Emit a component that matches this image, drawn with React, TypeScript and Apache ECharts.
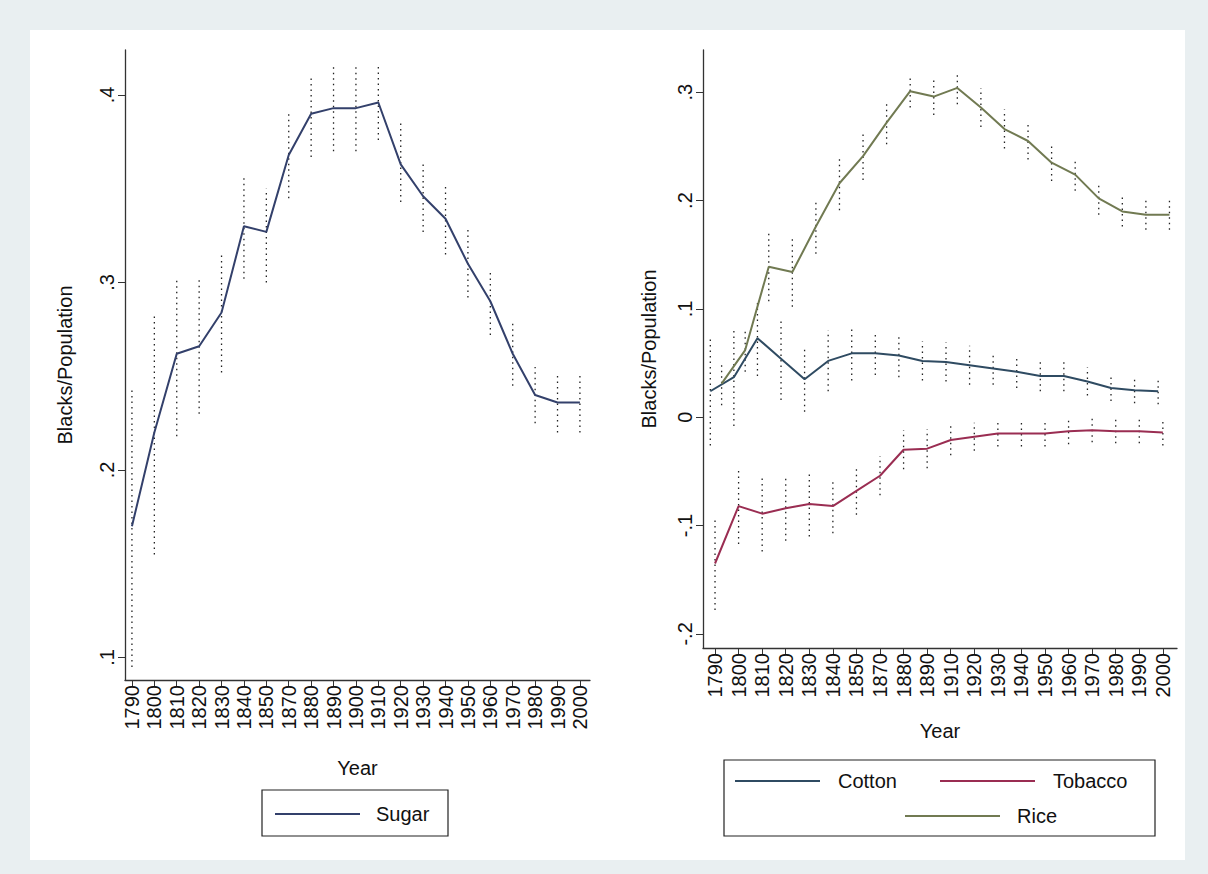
import React, { useEffect, useRef } from "react";
import * as echarts from "echarts";

const yearsL = ["1790","1800","1810","1820","1830","1840","1850","1870","1880","1890","1900","1910","1920","1930","1940","1950","1960","1970","1980","1990","2000"];
const yearsR = ["1790","1800","1810","1820","1830","1840","1850","1870","1880","1890","1910","1920","1930","1940","1950","1960","1970","1980","1990","2000"];
const sugar = [0.17,0.22,0.262,0.266,0.284,0.33,0.327,0.368,0.39,0.393,0.393,0.396,0.363,0.346,0.334,0.31,0.29,0.262,0.24,0.236,0.236];
const sugarLo = [0.095,0.155,0.218,0.23,0.252,0.302,0.3,0.345,0.367,0.37,0.37,0.376,0.343,0.327,0.315,0.292,0.272,0.245,0.225,0.22,0.22];
const sugarHi = [0.243,0.282,0.303,0.303,0.316,0.357,0.35,0.39,0.41,0.415,0.415,0.415,0.385,0.365,0.353,0.328,0.306,0.278,0.255,0.252,0.252];
const cotton = [0.024,0.037,0.073,0.054,0.035,0.052,0.059,0.059,0.057,0.052,0.051,0.048,0.045,0.042,0.038,0.038,0.033,0.027,0.025,0.024];
const cottonHalf = [0.05,0.045,0.035,0.038,0.03,0.028,0.025,0.02,0.02,0.018,0.018,0.018,0.015,0.015,0.014,0.014,0.013,0.012,0.012,0.012];
const tobacco = [-0.135,-0.082,-0.089,-0.084,-0.08,-0.082,-0.068,-0.054,-0.03,-0.029,-0.021,-0.018,-0.015,-0.015,-0.015,-0.013,-0.012,-0.013,-0.013,-0.014];
const tobaccoHalf = [0.043,0.035,0.035,0.03,0.03,0.025,0.022,0.018,0.018,0.018,0.014,0.013,0.012,0.012,0.012,0.012,0.011,0.011,0.011,0.012];
const rice = [0.031,0.062,0.139,0.134,0.176,0.216,0.241,0.272,0.301,0.296,0.304,0.286,0.266,0.255,0.235,0.224,0.202,0.19,0.187,0.187];
const riceHalf = [0.02,0.02,0.032,0.032,0.025,0.025,0.022,0.02,0.015,0.017,0.015,0.018,0.018,0.017,0.017,0.015,0.015,0.014,0.014,0.014];

const C_SUGAR = "#33406b", C_COTTON = "#2f4b62", C_TOB = "#9a2d52", C_RICE = "#717a52";
const FONT = "Liberation Sans";

function ciSeries(xi: number, pts: number[][]) {
  return {
    type: "custom", xAxisIndex: xi, yAxisIndex: xi, silent: true, z: 1,
    data: pts,
    encode: { x: 0, y: [1, 2] },
    renderItem: (params: any, api: any) => {
      const a = api.coord([api.value(0), api.value(1)]);
      const b = api.coord([api.value(0), api.value(2)]);
      return { type: "line", shape: { x1: a[0], y1: a[1], x2: b[0], y2: b[1] }, style: { stroke: "#222", lineWidth: 1.3, lineDash: [1.5, 4] } };
    },
  };
}

export default function App() {
  const ref = useRef<HTMLDivElement>(null);
  useEffect(() => {
    const chart = echarts.init(ref.current!, null, { renderer: "svg" });
    const offC = -0.2, offR = 0.28;
    const xAxisBase = (years: string[], min: number, max: number, gi: number, gap: number) => ({
      type: "value", gridIndex: gi, min, max,
      axisLine: { show: true, onZero: false, lineStyle: { color: "#333", width: 1.3 } },
      axisTick: { show: true, length: 7, customValues: years.map((_, i) => i), lineStyle: { color: "#333" } },
      axisLabel: { customValues: years.map((_, i) => i), rotate: 90, formatter: (v: number) => years[Math.round(v)] ?? "", fontFamily: FONT, fontSize: 20, color: "#111", margin: 5 },
      splitLine: { show: false },
      name: "Year", nameLocation: "middle", nameGap: gap, nameTextStyle: { fontFamily: FONT, fontSize: 20, color: "#111" },
    });
    const yAxisBase = (min: number, max: number, ticks: number[], gi: number, gap: number) => ({
      type: "value", gridIndex: gi, min, max,
      axisLine: { show: true, onZero: false, lineStyle: { color: "#333", width: 1.3 } },
      axisTick: { show: true, length: 7, customValues: ticks, lineStyle: { color: "#333" } },
      axisLabel: { customValues: ticks, rotate: 90, formatter: (v: number) => { const s = (Math.round(v * 10) / 10).toString(); return s.replace(/^0\./, ".").replace(/^-0\./, "-."); }, fontFamily: FONT, fontSize: 20, color: "#111", margin: 8 },
      splitLine: { show: false },
      name: "Blacks/Population", nameLocation: "middle", nameGap: gap, nameRotate: 90, nameTextStyle: { fontFamily: FONT, fontSize: 20, color: "#111" },
    });
    const line = (data: number[][], color: string, gi: number) => ({
      type: "line", xAxisIndex: gi, yAxisIndex: gi, data, showSymbol: false, z: 3,
      lineStyle: { color, width: 2 }, itemStyle: { color },
    });
    chart.setOption({
      animation: false,
      backgroundColor: "#e9eff1",
      grid: [
        { left: 125, top: 50, width: 465, height: 630 },
        { left: 703, top: 50, width: 474, height: 598 },
      ],
      xAxis: [xAxisBase(yearsL, -0.31, 20.45, 0, 78), xAxisBase(yearsR, -0.51, 19.6, 1, 73)],
      yAxis: [yAxisBase(0.088, 0.424, [0.1, 0.2, 0.3, 0.4], 0, 50), yAxisBase(-0.213, 0.339, [-0.2, -0.1, 0, 0.1, 0.2, 0.3], 1, 44)],
      graphic: [
        { type: "rect", z: -10, shape: { x: 30, y: 30, width: 1155, height: 830 }, style: { fill: "#fff" } },
        { type: "rect", shape: { x: 262, y: 790, width: 186, height: 46 }, style: { fill: "#fff", stroke: "#222", lineWidth: 1.2 } },
        { type: "line", shape: { x1: 275, y1: 814, x2: 360, y2: 814 }, style: { stroke: C_SUGAR, lineWidth: 2 } },
        { type: "text", x: 376, y: 814, style: { text: "Sugar", fontFamily: FONT, fontSize: 20, fill: "#111", verticalAlign: "middle" } },
        { type: "rect", shape: { x: 724, y: 760, width: 431, height: 76 }, style: { fill: "#fff", stroke: "#222", lineWidth: 1.2 } },
        { type: "line", shape: { x1: 735, y1: 781, x2: 820, y2: 781 }, style: { stroke: C_COTTON, lineWidth: 2 } },
        { type: "text", x: 838, y: 781, style: { text: "Cotton", fontFamily: FONT, fontSize: 20, fill: "#111", verticalAlign: "middle" } },
        { type: "line", shape: { x1: 940, y1: 781, x2: 1035, y2: 781 }, style: { stroke: C_TOB, lineWidth: 2 } },
        { type: "text", x: 1053, y: 781, style: { text: "Tobacco", fontFamily: FONT, fontSize: 20, fill: "#111", verticalAlign: "middle" } },
        { type: "line", shape: { x1: 905, y1: 816, x2: 1000, y2: 816 }, style: { stroke: C_RICE, lineWidth: 2 } },
        { type: "text", x: 1017, y: 816, style: { text: "Rice", fontFamily: FONT, fontSize: 20, fill: "#111", verticalAlign: "middle" } },
      ],
      series: [
        ciSeries(0, sugar.map((_, i) => [i, sugarLo[i], sugarHi[i]])),
        line(sugar.map((v, i) => [i, v]), C_SUGAR, 0),
        ciSeries(1, cotton.map((v, i) => [i + offC, v - cottonHalf[i], v + cottonHalf[i]])),
        ciSeries(1, tobacco.map((v, i) => [i, v - tobaccoHalf[i], v + tobaccoHalf[i]])),
        ciSeries(1, rice.map((v, i) => [i + offR, v - riceHalf[i], v + riceHalf[i]])),
        line(cotton.map((v, i) => [i + offC, v]), C_COTTON, 1),
        line(tobacco.map((v, i) => [i, v]), C_TOB, 1),
        line(rice.map((v, i) => [i + offR, v]), C_RICE, 1),
      ],
    });
    return () => chart.dispose();
  }, []);
  return <div ref={ref} style={{ position: "absolute", left: 0, top: 0, width: 1208, height: 874 }} />;
}
